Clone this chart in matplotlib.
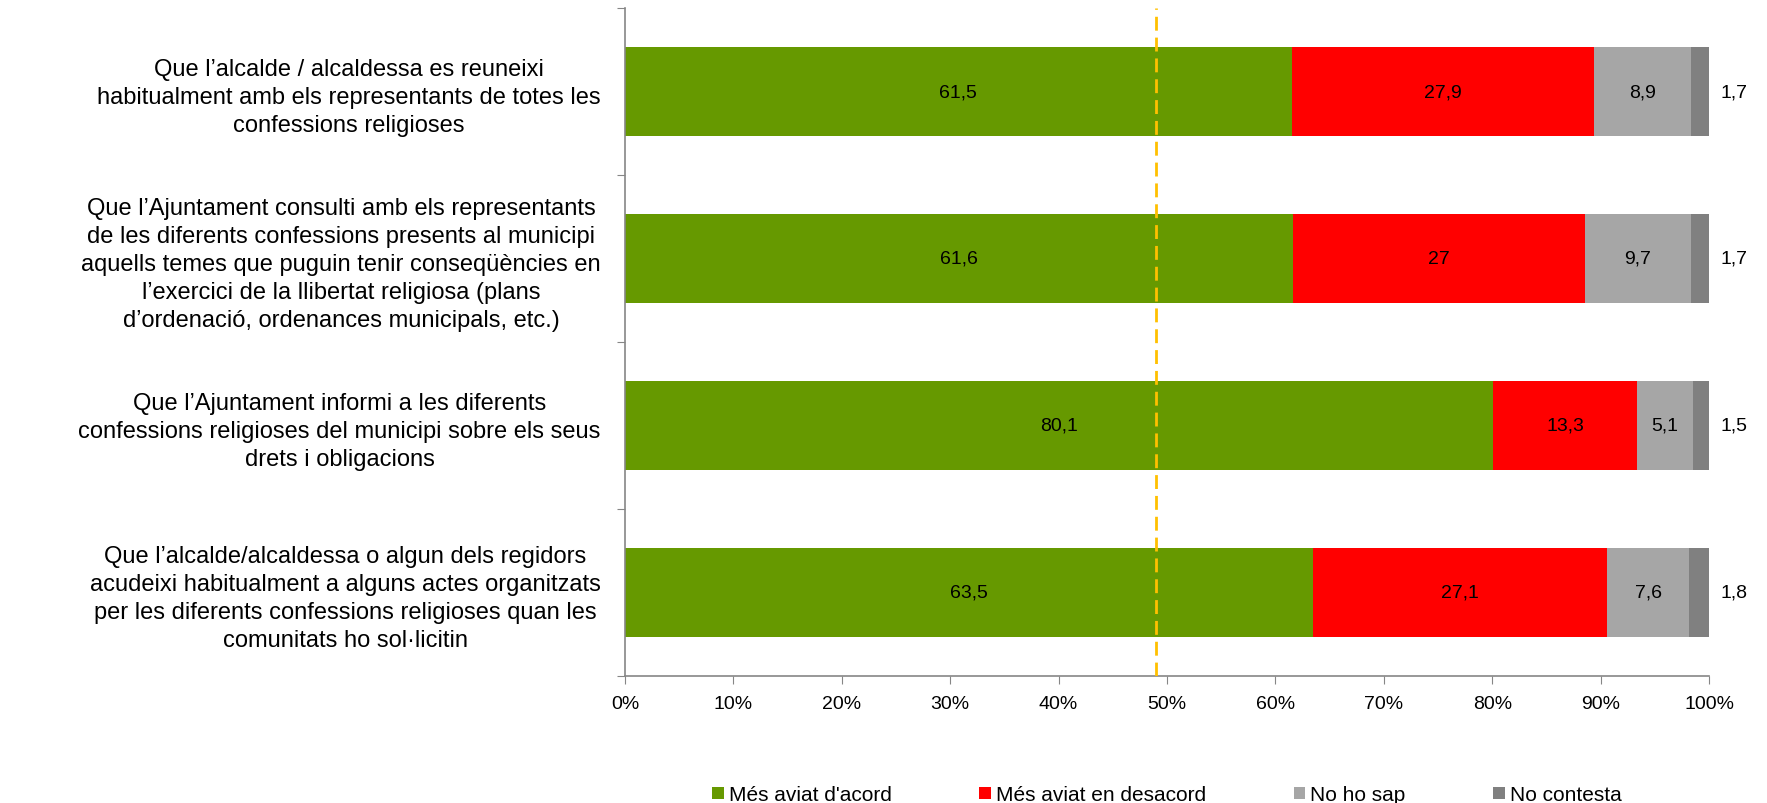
import matplotlib.pyplot as plt
import numpy as np
from matplotlib.patches import Patch

plt.rcParams['font.family'] = ['Liberation Sans', 'DejaVu Sans']

# Dades de l'enquesta (percentatges per fila)
questions = [
    "Que l\u2019alcalde / alcaldessa es reuneixi\nhabitualment amb els representants de totes les\nconfessions religioses",
    "Que l\u2019Ajuntament consulti amb els representants\nde les diferents confessions presents al municipi\naquells temes que puguin tenir conseq\u00fc\u00e8ncies en\nl\u2019exercici de la llibertat religiosa (plans\nd\u2019ordenaci\u00f3, ordenances municipals, etc.)",
    "Que l\u2019Ajuntament informi a les diferents\nconfessions religioses del municipi sobre els seus\ndrets i obligacions",
    "Que l\u2019alcalde/alcaldessa o algun dels regidors\nacudeixi habitualment a alguns actes organitzats\nper les diferents confessions religioses quan les\ncomunitats ho sol\u00b7licitin",
]
series_names = ["M\u00e9s aviat d'acord", "M\u00e9s aviat en desacord", "No ho sap", "No contesta"]
acord = [61.5, 61.6, 80.1, 63.5]
desacord = [27.9, 27.0, 13.3, 27.1]
no_sap = [8.9, 9.7, 5.1, 7.6]
no_contesta = [1.7, 1.7, 1.5, 1.8]
reference_line = 49.0

colors = ["#669900", "#FF0000", "#A6A6A6", "#808080"]
axis_grey = "#868686"


def fmt(v):
    return f"{v:g}".replace(".", ",")


fig = plt.figure(figsize=(17.67, 8.04), dpi=100)
W, H = 1767, 804
ax = fig.add_axes([625 / W, 1 - 677 / H, (1709 - 625) / W, (677 - 9) / H])

y = np.arange(len(questions))
left = np.zeros(len(questions))
for i, (vals, col) in enumerate(zip([acord, desacord, no_sap, no_contesta], colors)):
    vals = np.array(vals)
    ax.barh(y, vals, left=left, height=0.53, color=col, zorder=2)
    for yi, l, v in zip(y, left, vals):
        if i < 3:
            ax.text(l + v / 2, yi, fmt(v), ha="center", va="center", fontsize=14, zorder=4)
        else:
            ax.annotate(fmt(v), xy=(100, yi), xytext=(8, 0), textcoords="offset points",
                        ha="left", va="center", fontsize=14)
    left = left + vals

ax.axvline(reference_line, color="#FFC000", lw=2, ls=(0, (5, 2.5)), zorder=3)

ax.set_xlim(0, 100)
ax.set_ylim(len(questions) - 0.5, -0.5)
ax.set_xticks(np.arange(0, 101, 10))
ax.set_xticklabels([f"{t}%" for t in range(0, 101, 10)], fontsize=14)
ax.tick_params(axis="x", direction="out", length=6, color=axis_grey, pad=8)

# marques a les fronteres de categoria, etiquetes al centre
ax.set_yticks(np.arange(-0.5, len(questions), 1.0))
ax.set_yticklabels([])
ax.tick_params(axis="y", which="major", direction="out", length=6, color=axis_grey)
ax.set_yticks(y, minor=True)
ax.set_yticklabels(questions, minor=True, fontsize=17, multialignment="center", linespacing=1.35)
ax.tick_params(axis="y", which="minor", length=0, pad=17.5)

for s in ["top", "right"]:
    ax.spines[s].set_visible(False)
for s in ["left", "bottom"]:
    ax.spines[s].set_color(axis_grey)
    ax.spines[s].set_linewidth(1.2)

handles = [Patch(facecolor=c, edgecolor="none") for c in colors]
fig.legend(handles, series_names, loc="center", bbox_to_anchor=(1167 / W, 1 - 796 / H),
           ncol=4, frameon=False, fontsize=15, handlelength=0.55, handleheight=0.55,
           handletextpad=0.25, columnspacing=4.2, borderpad=0)

fig.savefig("out.png", dpi=100)
